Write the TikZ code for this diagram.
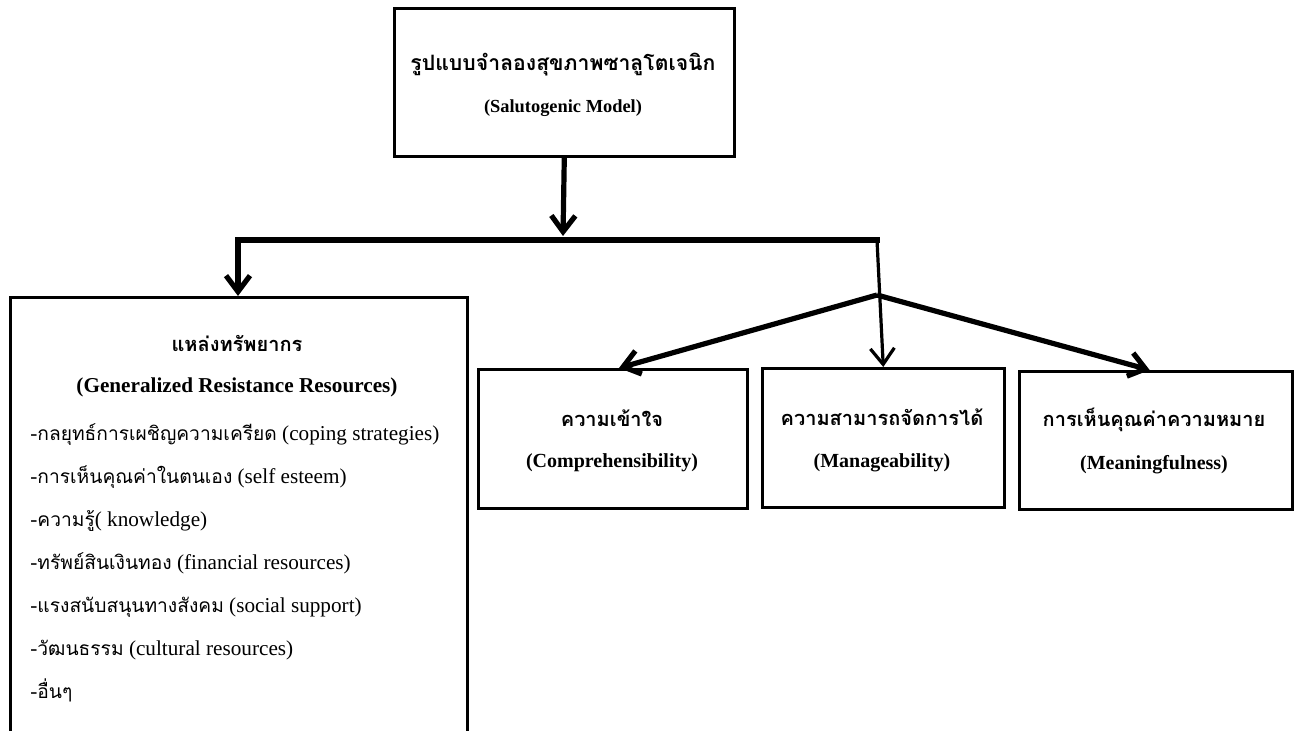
\documentclass[tikz,border=0pt]{standalone}
\usepackage{fontspec}
\setmainfont{Liberation Serif}
\newfontfamily\thaifont[Script=Thai]{Loma}
\newcommand{\tht}[1]{{\thaifont\fontsize{9.6}{21.5}\selectfont #1}}
\usetikzlibrary{arrows.meta,positioning}

\begin{document}
\begin{tikzpicture}[x=0.5pt,y=-0.5pt,
		every node/.style={font=\fontsize{10.6}{21.5}\selectfont},
		box/.style={draw, line width=1.3pt, anchor=north west, inner sep=0pt},
		thtext/.style={font=\thaifont\bfseries\fontsize{10}{12}\selectfont},
		entext/.style={font=\bfseries\fontsize{10}{12}\selectfont},
		link/.style={draw, line width=2.6pt, -{Straight Barb[length=8pt,width=12pt]}}]
		\useasboundingbox (0,0) rectangle (1298,731);
		% Boxes
		\node (model) [box, minimum width=170pt, minimum height=74pt] at (393,7) {};
		\node (res) [box, minimum width=228.5pt, minimum height=225pt] at (9,296) {};
		\node (comp) [box, minimum width=134.5pt, minimum height=69.5pt] at (477,368) {};
		\node (manag) [box, minimum width=121pt, minimum height=69.5pt] at (761,367) {};
		\node (mean) [box, minimum width=136.5pt, minimum height=69pt] at (1018,370) {};

		% Texts
		\node (modelth) [thtext, font=\thaifont\bfseries\fontsize{10.6}{12}\selectfont] at (563,65) {รูปแบบจำลองสุขภาพซาลูโตเจนิก};
		\node (modelen) [entext, font=\bfseries\fontsize{9.2}{12}\selectfont] at (563,108) {(Salutogenic Model)};
		\node (resth) [thtext] at (237,343) {แหล่งทรัพยากร};
		\node (resen) [entext, font=\bfseries\fontsize{10.6}{12}\selectfont] at (237,387) {(Generalized Resistance Resources)};
		\node (items) [anchor=west, align=left, inner sep=0pt] at (30,563) {%
			-\tht{กลยุทธ์การเผชิญความเครียด} (coping strategies)\\
			-\tht{การเห็นคุณค่าในตนเอง} (self esteem)\\
			-\tht{ความรู้}( knowledge)\\
			-\tht{ทรัพย์สินเงินทอง} (financial resources)\\
			-\tht{แรงสนับสนุนทางสังคม} (social support)\\
			-\tht{วัฒนธรรม} (cultural resources)\\
			-\tht{อื่นๆ}};
		\node (compth) [thtext] at (612,418) {ความเข้าใจ};
		\node (compen) [entext] at (612,463) {(Comprehensibility)};
		\node (managth) [thtext] at (882,417) {ความสามารถจัดการได้};
		\node (managen) [entext] at (882,463) {(Manageability)};
		\node (meanth) [thtext] at (1154,420) {การเห็นคุณค่าความหมาย};
		\node (meanen) [entext] at (1154,465) {(Meaningfulness)};

		% Connectors
		\coordinate (barL) at (238,240);
		\coordinate (barR) at (877,240);
		\coordinate (fork) at (877,295);
		\coordinate (barM) at (563,236);
		\draw[link] (model.south) -- (barM);
		\draw[line width=2.6pt, line cap=rect] (barL) -- (barR);
		\draw[link] (barL) -- (res.north -| barL);
		\draw[link, line width=1.6pt] (barR) -- (manag.north);
		\draw[link] (fork) -- (comp.85);
		\draw[link] (fork) -- (mean.95);
	\end{tikzpicture}
\end{document}
